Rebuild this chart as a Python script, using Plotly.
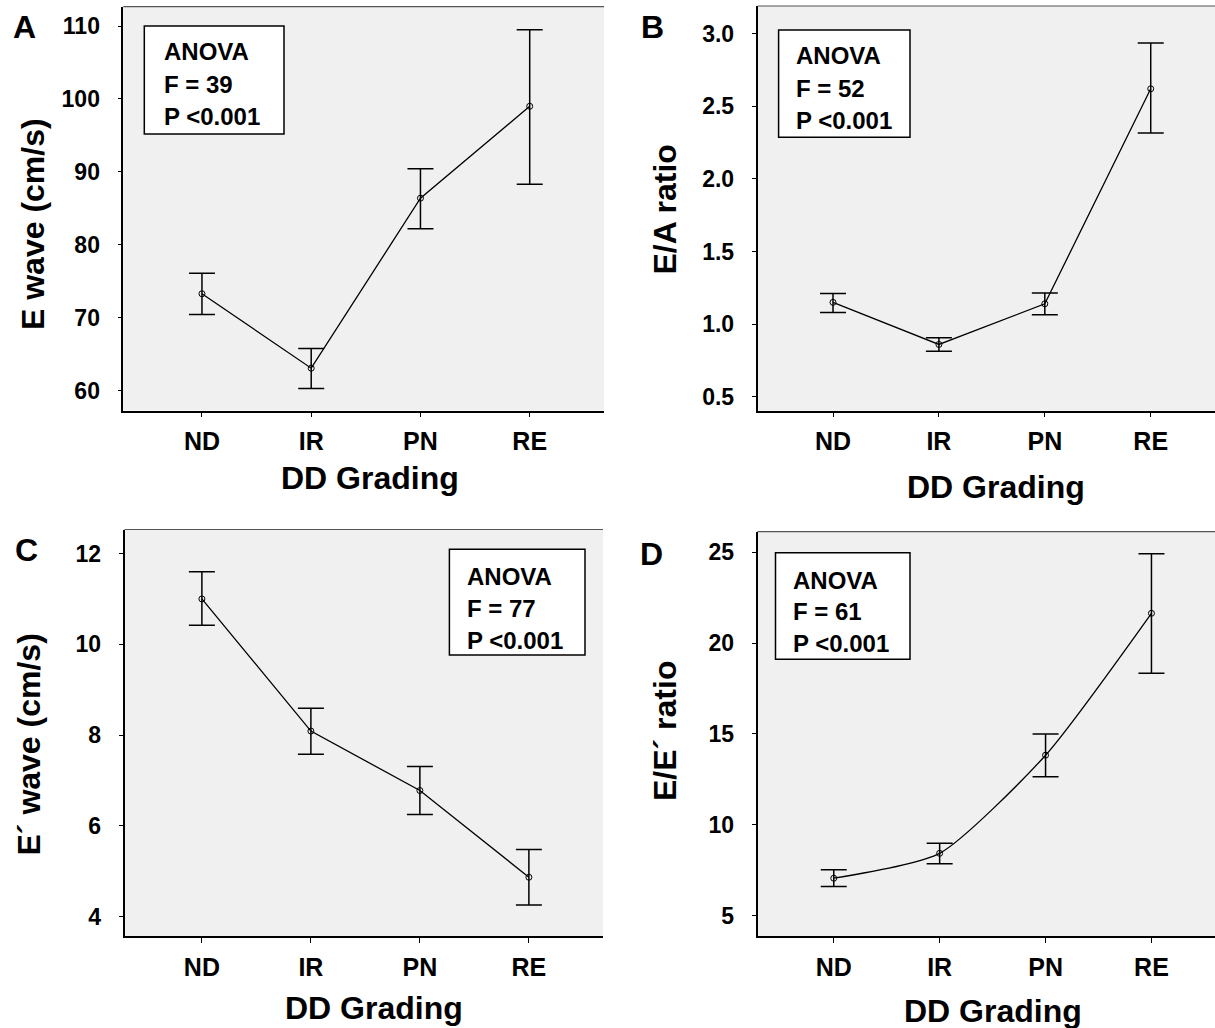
import plotly.graph_objects as go

W, H = 1215, 1028

categories = ["ND", "IR", "PN", "RE"]

# Panel A: E wave (cm/s)
a_mean = [73.3, 63.1, 86.4, 99.0]
a_upper = [76.1, 65.8, 90.45, 109.5]
a_lower = [70.45, 60.3, 82.2, 88.3]

# Panel B: E/A ratio
b_mean = [1.15, 0.86, 1.14, 2.62]
b_upper = [1.21, 0.906, 1.215, 2.935]
b_lower = [1.08, 0.814, 1.064, 2.316]

# Panel C: E' wave (cm/s)
c_mean = [11.0, 8.09, 6.78, 4.87]
c_upper = [11.6, 8.59, 7.31, 5.48]
c_lower = [10.42, 7.58, 6.25, 4.26]

# Panel D: E/E' ratio
d_mean = [7.06, 8.43, 13.83, 21.64]
d_upper = [7.52, 8.98, 15.0, 24.92]
d_lower = [6.6, 7.85, 12.65, 18.34]

a_ticks = [60, 70, 80, 90, 100, 110]
b_ticks = [0.5, 1.0, 1.5, 2.0, 2.5, 3.0]
c_ticks = [4, 6, 8, 10, 12]
d_ticks = [5, 10, 15, 20, 25]

anova_texts = [["ANOVA", "F = 39", "P <0.001"],
               ["ANOVA", "F = 52", "P <0.001"],
               ["ANOVA", "F = 77", "P <0.001"],
               ["ANOVA", "F = 61", "P <0.001"]]
panel_letters = ["A", "B", "C", "D"]
y_titles = ["E wave (cm/s)", "E/A ratio", "E\u00b4 wave (cm/s)", "E/E\u00b4 ratio"]
x_title = "DD Grading"


def px(x):
    return x / W


def py(y):
    return 1 - y / H


FONT = "Liberation Sans, Arial, Helvetica, sans-serif"
BG = "#F0F0F0"

panels = [
    dict(data=(a_mean, a_upper, a_lower), ticks=a_ticks, fmt="d",
         xd=(123.3, 604), yd=(6.7, 410.5), xr=(-0.72, 3.68), yr=(57.3, 112.65),
         box=(144.3, 26, 284, 134), tx=161.7, ty=(51.5, 84, 116),
         letter=(24, 27), ytitle=(33, 224), xtitle=(370, 478), spline=False),
    dict(data=(b_mean, b_upper, b_lower), ticks=b_ticks, fmt=".1f",
         xd=(757.5, 1215), yd=(6, 410.7), xr=(-0.713, 3.607), yr=(0.404, 3.19),
         box=(778.6, 30, 910, 137.3), tx=794, ty=(55.5, 88.5, 120),
         letter=(652, 27), ytitle=(664.5, 210), xtitle=(996, 487), spline=False),
    dict(data=(c_mean, c_upper, c_lower), ticks=c_ticks, fmt="d",
         xd=(124.5, 603), yd=(529.5, 936), xr=(-0.71, 3.68), yr=(3.575, 12.53),
         box=(449.4, 549.3, 585, 655), tx=464.8, ty=(576.7, 608.3, 640.7),
         letter=(26, 550), ytitle=(28.5, 745), xtitle=(373.5, 1008), spline=False),
    dict(data=(d_mean, d_upper, d_lower), ticks=d_ticks, fmt="d",
         xd=(757.5, 1215), yd=(531.7, 936), xr=(-0.72, 3.6), yr=(3.88, 26.13),
         box=(775.5, 552.7, 910, 659.3), tx=790.8, ty=(580, 611.7, 643.3),
         letter=(651, 554), ytitle=(664.5, 731.5), xtitle=(993, 1011), spline=True),
]

fig = go.Figure()
shapes = []
annotations = []
layout = {}

for i, p in enumerate(panels):
    n = i + 1
    xa = "x" if n == 1 else f"x{n}"
    ya = "y" if n == 1 else f"y{n}"
    mean, up, lo = p["data"]
    err_plus = [u - m for u, m in zip(up, mean)]
    err_minus = [m - l for m, l in zip(mean, lo)]
    idx = list(range(len(categories)))
    fig.add_trace(go.Scatter(
        x=idx, y=mean, xaxis=xa, yaxis=ya, mode="lines+markers",
        line=dict(color="black", width=1.3, shape="spline" if p["spline"] else "linear",
                  smoothing=0.6),
        marker=dict(symbol="circle-open", size=6, color="black", line=dict(width=1)),
        error_y=dict(type="data", symmetric=False, array=err_plus, arrayminus=err_minus,
                     color="black", thickness=1.5, width=13),
        showlegend=False, hoverinfo="skip"))

    xkey = "xaxis" if n == 1 else f"xaxis{n}"
    ykey = "yaxis" if n == 1 else f"yaxis{n}"
    layout[xkey] = dict(
        domain=[px(p["xd"][0]), px(p["xd"][1])], range=list(p["xr"]),
        anchor=ya, tickmode="array", tickvals=idx, ticktext=categories,
        showgrid=False, zeroline=False, showline=True, linecolor="black", linewidth=1.5,
        ticks="outside", ticklen=5, tickwidth=1, tickcolor="black",
        tickfont=dict(family=FONT, size=25, color="black", weight="bold"),
        ticklabelstandoff=3, fixedrange=True)
    ticktext = [format(v, p["fmt"]) if p["fmt"] != "d" else str(int(v)) for v in p["ticks"]]
    layout[ykey] = dict(
        domain=[py(p["yd"][1]), py(p["yd"][0])], range=list(p["yr"]),
        anchor=xa, tickmode="array", tickvals=p["ticks"], ticktext=ticktext,
        showgrid=False, zeroline=False, showline=True, linecolor="black", linewidth=1.5,
        ticks="outside", ticklen=4, tickwidth=1, tickcolor="black",
        tickfont=dict(family=FONT, size=23, color="black", weight="bold"),
        ticklabelstandoff=13, fixedrange=True)

    # plot area background
    shapes.append(dict(type="rect", xref="paper", yref="paper", layer="below",
                       x0=px(p["xd"][0]), x1=px(p["xd"][1]),
                       y0=py(p["yd"][1]), y1=py(p["yd"][0]),
                       fillcolor=BG, line=dict(width=0)))
    # top border
    shapes.append(dict(type="line", xref="paper", yref="paper",
                       x0=px(p["xd"][0]), x1=px(p["xd"][1]),
                       y0=py(p["yd"][0]), y1=py(p["yd"][0]),
                       line=dict(color="#555555", width=1.2)))
    # ANOVA box
    bx0, by0, bx1, by1 = p["box"]
    shapes.append(dict(type="rect", xref="paper", yref="paper", layer="above",
                       x0=px(bx0), x1=px(bx1), y0=py(by1), y1=py(by0),
                       fillcolor="white", line=dict(color="black", width=1.5)))
    for t, yy in zip(anova_texts[i], p["ty"]):
        annotations.append(dict(text=t, xref="paper", yref="paper", x=px(p["tx"]), y=py(yy),
                                xanchor="left", yanchor="middle", showarrow=False,
                                font=dict(family=FONT, size=24, color="black", weight="bold")))
    # panel letter
    annotations.append(dict(text=panel_letters[i], xref="paper", yref="paper",
                            x=px(p["letter"][0]), y=py(p["letter"][1]),
                            xanchor="center", yanchor="middle", showarrow=False,
                            font=dict(family=FONT, size=32, color="black", weight="bold")))
    # y title
    annotations.append(dict(text=y_titles[i], xref="paper", yref="paper",
                            x=px(p["ytitle"][0]), y=py(p["ytitle"][1]), textangle=-90,
                            xanchor="center", yanchor="middle", showarrow=False,
                            font=dict(family=FONT, size=32, color="black", weight="bold")))
    # x title
    annotations.append(dict(text=x_title, xref="paper", yref="paper",
                            x=px(p["xtitle"][0]), y=py(p["xtitle"][1]),
                            xanchor="center", yanchor="middle", showarrow=False,
                            font=dict(family=FONT, size=32, color="black", weight="bold")))

fig.update_layout(
    width=W, height=H, margin=dict(l=0, r=0, t=0, b=0),
    paper_bgcolor="white", plot_bgcolor="rgba(0,0,0,0)",
    shapes=shapes, annotations=annotations, **layout)

fig.write_html("out.html", config={"displayModeBar": False},
               post_script="document.body.style.margin='0';document.body.style.overflow='hidden';")
